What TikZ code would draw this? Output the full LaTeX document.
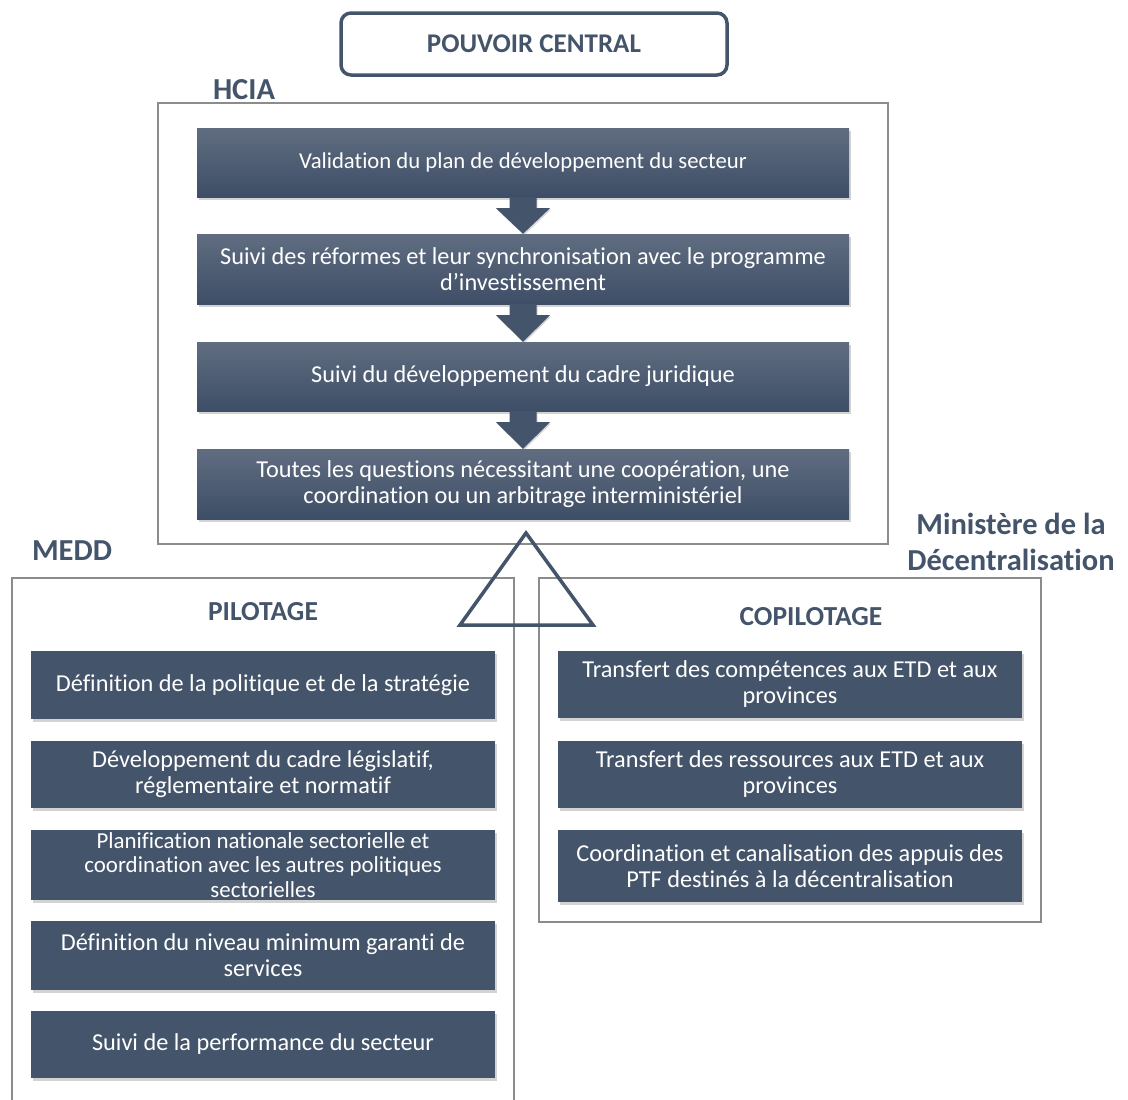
\documentclass[tikz,border=0pt]{standalone}
\usepackage{fontspec}
\setmainfont{Carlito}[Ligatures=NoCommon]
\usetikzlibrary{shadows,calc}
\definecolor{slate}{RGB}{68,84,106}
\definecolor{slatetop}{RGB}{96,109,129}
\definecolor{slatebot}{RGB}{62,78,102}
\definecolor{frame}{RGB}{140,140,140}
\tikzset{
  hbox/.style={rectangle, top color=slatetop, bottom color=slatebot, draw=none, text=white,
    align=center, font=\fontsize{24.3}{26}\selectfont, inner sep=0pt,
    drop shadow={shadow xshift=1.5pt, shadow yshift=-2.5pt, opacity=0.35}},
  sbox/.style={rectangle, fill=slate, draw=none, text=white,
    align=center, font=\fontsize{24.3}{26}\selectfont, inner sep=0pt,
    minimum width=464pt,
    drop shadow={shadow xshift=1.5pt, shadow yshift=-2.5pt, opacity=0.35}},
  grpframe/.style={draw=frame, line width=1.2pt},
  title/.style={text=slate, font=\bfseries\fontsize{30.5}{36}\selectfont, align=center},
  subtitle/.style={text=slate, font=\bfseries\fontsize{27.5}{32}\selectfont},
  downarrow/.style={fill=slate, draw=none}
}
\begin{document}
\begin{tikzpicture}[x=1pt,y=-1pt]
\useasboundingbox (0,0) rectangle (1128,1100);
% top box
\node[draw=slate, line width=3.5pt, rounded corners=10pt, minimum width=386pt, minimum height=62pt,
  text=slate, font=\bfseries\fontsize{27}{30}\selectfont] (pc) at (534,44) {POUVOIR CENTRAL};
% group frames
\draw[grpframe] (158,103) rectangle (888,544);
\draw[grpframe] (12,578) rectangle (514,1103);
\draw[grpframe] (539,578) rectangle (1041,922);
% labels
\node[title] (hcia) at (244,90) {HCIA};
\node[title] (medd) at (72,551) {MEDD};
\node[title] (mdec) at (1011,542) {Ministère de la\\Décentralisation};
\node[subtitle] (pil) at (263,612) {PILOTAGE};
\node[subtitle] (copil) at (811,617) {COPILOTAGE};
% HCIA boxes
\node[hbox, minimum width=652pt, minimum height=69pt, font=\fontsize{22.7}{26}\selectfont] (h1) at (523,162.5) {Validation du plan de développement du secteur};
\node[hbox, minimum width=652pt, minimum height=70pt] (h2) at (523,269) {Suivi des réformes et leur synchronisation avec le programme\\d’investissement};
\node[hbox, minimum width=652pt, minimum height=69pt] (h3) at (523,376.5) {Suivi du développement du cadre juridique};
\node[hbox, minimum width=652pt, minimum height=70pt] (h4) at (523,484) {Toutes les questions nécessitant une coopération, une\\coordination ou un arbitrage interministériel};
% block arrows
\foreach \a/\b in {h1/h2,h2/h3,h3/h4}{
  \path (\a.south) coordinate (s) (\b.north) coordinate (e);
  \fill[downarrow, drop shadow={shadow xshift=1pt, shadow yshift=-1.5pt, opacity=0.3}]
    ($(s)+(-13.5,0)$) -- ($(s)+(13.5,0)$) -- ($(s)+(13.5,11)$) -- ($(s)+(27,11)$)
    -- (e) -- ($(s)+(-27,11)$) -- ($(s)+(-13.5,11)$) -- cycle;
}
% triangle
\coordinate (tA) at (526,533);
\coordinate (tB) at (593,625);
\coordinate (tC) at (460,625);
\draw[slate, line width=3.5pt, line join=miter] (tA) -- (tB) -- (tC) -- cycle;
% left boxes
\node[sbox, minimum height=68pt] (l1) at (263,685) {Définition de la politique et de la stratégie};
\node[sbox, minimum height=67pt] (l2) at (263,774.5) {Développement du cadre législatif,\\réglementaire et normatif};
\node[sbox, minimum height=70pt, font=\fontsize{22.9}{24.5}\selectfont] (l3) at (263,865) {Planification nationale sectorielle et\\coordination avec les autres politiques\\sectorielles};
\node[sbox, minimum height=69pt] (l4) at (263,955.5) {Définition du niveau minimum garanti de\\services};
\node[sbox, minimum height=67pt] (l5) at (263,1044.5) {Suivi de la performance du secteur};
% right boxes
\node[sbox, minimum height=67pt] (r1) at (790,684.5) {Transfert des compétences aux ETD et aux\\provinces};
\node[sbox, minimum height=67pt] (r2) at (790,774.5) {Transfert des ressources aux ETD et aux\\provinces};
\node[sbox, minimum height=72pt] (r3) at (790,866) {Coordination et canalisation des appuis des\\PTF destinés à la décentralisation};
\end{tikzpicture}
\end{document}
